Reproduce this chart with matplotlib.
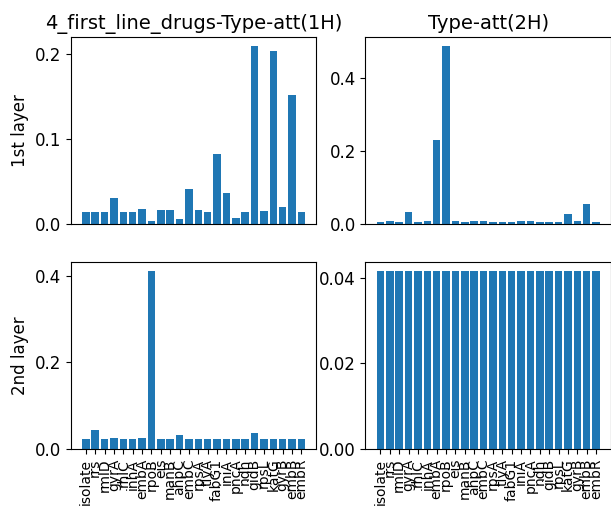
import numpy as np
import matplotlib
matplotlib.use('Agg')
import matplotlib.pyplot as plt

# 유전자 이름 (x축)
genes = ['isolate', 'rrs', 'rmlD', 'gyrA', 'rhlC', 'inhA', 'embA', 'rpoB',
         'eis', 'manB', 'ahpC', 'embC', 'rpsA', 'tlyA', 'fabG1', 'iniA',
         'pncA', 'ndh', 'gidB', 'rpsL', 'katG', 'gyrB', 'embB', 'embR']

# 1st layer attention
layer1_1h = [0.014, 0.014, 0.014, 0.030, 0.014, 0.014, 0.018, 0.004,
             0.016, 0.016, 0.006, 0.041, 0.016, 0.014, 0.082, 0.036,
             0.007, 0.014, 0.210, 0.015, 0.204, 0.020, 0.152, 0.014]
layer1_2h = [0.006, 0.007, 0.006, 0.034, 0.006, 0.007, 0.231, 0.488,
             0.007, 0.006, 0.009, 0.007, 0.006, 0.006, 0.006, 0.007,
             0.009, 0.006, 0.006, 0.006, 0.028, 0.008, 0.054, 0.006]

# 2nd layer attention
layer2_1h = [0.023, 0.045, 0.023, 0.026, 0.023, 0.023, 0.025, 0.411,
             0.023, 0.022, 0.032, 0.024, 0.023, 0.023, 0.024, 0.024,
             0.024, 0.023, 0.036, 0.023, 0.023, 0.023, 0.023, 0.023]
layer2_2h = [1/24] * 24

titles = ['4_first_line_drugs-Type-att(1H)', 'Type-att(2H)']
rows = ['1st layer', '2nd layer']
data = [[layer1_1h, layer1_2h], [layer2_1h, layer2_2h]]

fig, axes = plt.subplots(2, 2, figsize=(6.11, 5.12), dpi=100)
plt.subplots_adjust(left=0.116, right=1.0, top=0.928, bottom=0.123,
                    wspace=0.2, hspace=0.203)

x = np.arange(len(genes))
for i in range(2):
    for j in range(2):
        ax = axes[i][j]
        ax.bar(x, data[i][j], color='#1f77b4')
        ax.tick_params(axis='y', labelsize=12)
        if i == 0:
            ax.set_xticks([])
            ax.set_title(titles[j], fontsize=14)
        else:
            ax.set_xticks(x)
            ax.set_xticklabels(genes, rotation=90, fontsize=10)
        if j == 0:
            ax.set_ylabel(rows[i], fontsize=12)

axes[0][0].set_yticks([0.0, 0.1, 0.2])
axes[0][1].set_yticks([0.0, 0.2, 0.4])
axes[1][0].set_yticks([0.0, 0.2, 0.4])
axes[1][1].set_yticks([0.00, 0.02, 0.04])

plt.savefig('out.png', dpi=100)
